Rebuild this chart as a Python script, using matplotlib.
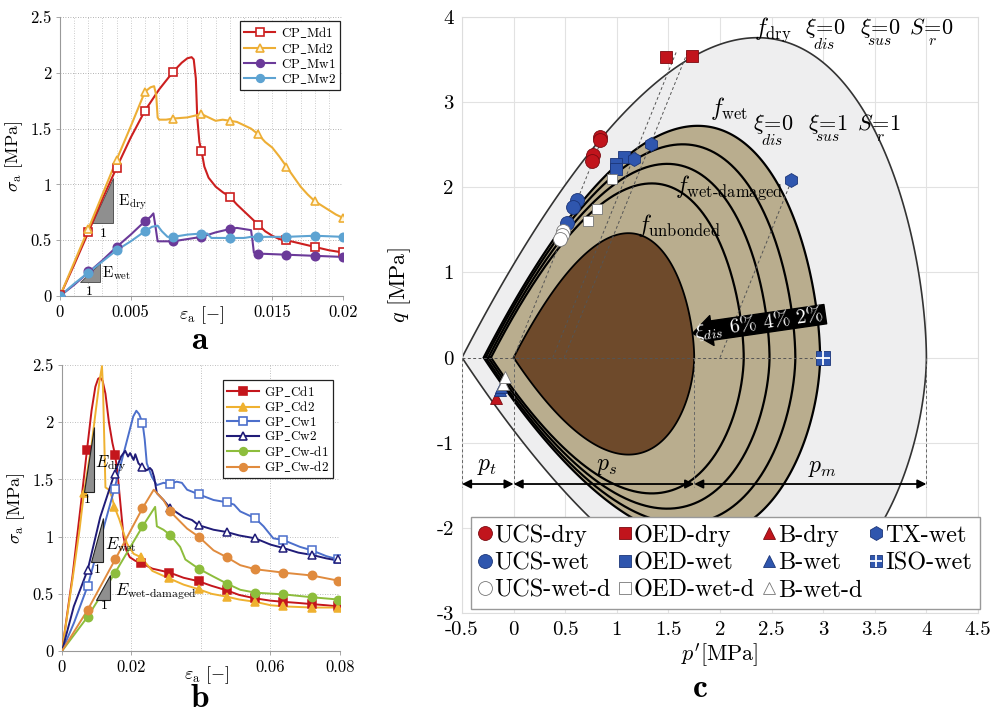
import numpy as np
import matplotlib
matplotlib.use('Agg')
import matplotlib.pyplot as plt
from matplotlib.patches import Polygon
from matplotlib.lines import Line2D

plt.rcParams.update({
    'font.family': 'serif',
    'font.serif': ['cmr10'],
    'mathtext.fontset': 'cm',
    'axes.unicode_minus': False,
    'axes.formatter.use_mathtext': True,
})

# ---------------- panel a data (strain in 1e-3) ----------------
md1_e = [0, 1, 2, 3, 4, 5, 6, 7, 8, 8.6, 9.0, 9.3, 9.45, 9.6, 9.7, 9.85, 10.0, 10.2, 10.5, 11.0,
         11.5, 12.0, 12.5, 13.0, 13.5, 14.0, 14.5, 15.0, 15.5, 16.0, 17.0, 18.0, 19.0, 20.0]
md1_s = [0, 0.28, 0.57, 0.87, 1.15, 1.42, 1.66, 1.85, 2.01, 2.09, 2.13, 2.14, 2.12, 1.95, 1.6, 1.38,
         1.30, 1.16, 1.06, 0.98, 0.93, 0.89, 0.82, 0.76, 0.70, 0.64, 0.58, 0.54, 0.51, 0.50, 0.47,
         0.44, 0.41, 0.39]
md1_me = [0, 2, 4, 6, 8, 10, 12, 14, 16, 18, 20]
md1_ms = [0.01, 0.57, 1.15, 1.66, 2.01, 1.30, 0.89, 0.64, 0.50, 0.44, 0.39]

md2_e = [0, 1, 2, 3, 4, 5, 6, 6.4, 6.65, 6.8, 6.9, 7.0, 7.5, 8.0, 9.0, 10.0, 10.5, 11.0, 11.5,
         12.0, 12.5, 13.0, 13.5, 14.0, 14.5, 15.0, 15.5, 16.0, 16.5, 17.0, 17.5, 18.0, 18.5,
         19.0, 19.5, 20.0]
md2_s = [0, 0.30, 0.60, 0.91, 1.22, 1.52, 1.83, 1.87, 1.88, 1.80, 1.60, 1.58, 1.58, 1.59, 1.60,
         1.63, 1.60, 1.57, 1.58, 1.57, 1.56, 1.53, 1.50, 1.45, 1.38, 1.33, 1.25, 1.16, 1.07, 0.98,
         0.91, 0.85, 0.81, 0.77, 0.73, 0.70]
md2_me = [0, 2, 4, 6, 8, 10, 12, 14, 16, 18, 20]
md2_ms = [0, 0.60, 1.22, 1.83, 1.59, 1.63, 1.57, 1.45, 1.16, 0.85, 0.70]

mw1_e = [0, 1, 2, 3, 4, 5, 6, 6.4, 6.6, 6.75, 6.9, 7.5, 8.0, 9.0, 10.0, 10.5, 11.0, 12.0, 12.5,
         13.0, 13.5, 13.6, 13.7, 14.0, 16.0, 18.0, 20.0]
mw1_s = [0, 0.10, 0.21, 0.32, 0.44, 0.55, 0.67, 0.71, 0.74, 0.62, 0.49, 0.49, 0.49, 0.51, 0.53,
         0.55, 0.57, 0.60, 0.61, 0.60, 0.59, 0.50, 0.39, 0.38, 0.37, 0.36, 0.35]
mw1_me = [0, 2, 4, 6, 8, 10, 12, 14, 16, 18, 20]
mw1_ms = [0, 0.22, 0.44, 0.67, 0.49, 0.53, 0.60, 0.38, 0.37, 0.36, 0.35]

mw2_e = [0, 1, 2, 3, 4, 5, 6, 6.5, 6.9, 7.2, 7.6, 8.0, 8.5, 9.0, 10.0, 10.4, 10.7, 11.0, 12.0,
         13.0, 13.5, 14.0, 16.0, 18.0, 20.0]
mw2_s = [0, 0.11, 0.21, 0.31, 0.41, 0.49, 0.58, 0.62, 0.63, 0.58, 0.53, 0.53, 0.54, 0.55, 0.56,
         0.56, 0.52, 0.52, 0.52, 0.52, 0.53, 0.53, 0.53, 0.54, 0.53]
mw2_me = [0, 2, 4, 6, 8, 10, 12, 14, 16, 18, 20]
mw2_ms = [0, 0.21, 0.41, 0.58, 0.53, 0.56, 0.52, 0.53, 0.53, 0.54, 0.53]

# ---------------- panel b data (strain in 1e-3) ----------------
b_mark_e = [7.4, 15.2, 23.0, 31.0, 39.3, 47.4, 55.6, 63.7, 71.9, 79.5]

cd1_e = [0, 3, 5.5, 7.2, 8.5, 9.6, 10.4, 11.0, 11.7, 12.5, 13.5, 14.5, 15.3, 16.0, 16.8, 17.7,
         18.5, 19.5, 21.0, 22.7, 26, 31, 35, 39.3, 43, 47.4, 51, 55.6, 60, 63.7, 68, 71.9, 76, 79.5]
cd1_s = [0, 0.65, 1.30, 1.76, 2.10, 2.31, 2.38, 2.39, 2.36, 2.25, 2.00, 1.82, 1.71, 1.55, 1.29,
         1.00, 0.88, 0.82, 0.79, 0.77, 0.72, 0.685, 0.64, 0.61, 0.57, 0.53, 0.49, 0.46, 0.44,
         0.43, 0.42, 0.41, 0.40, 0.39]
cd1_me = [7.2, 15.3, 22.7, 30.8, 39.3, 47.4, 55.6, 63.7, 71.9, 79.5]
cd1_ms = [1.76, 1.71, 0.77, 0.685, 0.61, 0.53, 0.46, 0.43, 0.41, 0.39]

cd2_e = [0, 3, 5, 6.3, 8.5, 9.8, 10.8, 11.5, 11.8, 12.2, 12.5, 13.5, 14.3, 15.1, 16.5, 18.7,
         20.6, 22.7, 26, 30.8, 35, 39.3, 43, 47.4, 51, 55.6, 60, 63.7, 71.9, 79.5]
cd2_s = [0, 0.62, 1.05, 1.38, 1.80, 2.12, 2.36, 2.49, 2.30, 1.80, 1.43, 1.41, 1.35, 1.26, 1.15,
         0.94, 0.85, 0.82, 0.70, 0.635, 0.58, 0.54, 0.50, 0.475, 0.45, 0.43, 0.40, 0.39, 0.38, 0.38]
cd2_me = [6.3, 15.1, 22.7, 30.8, 39.3, 47.4, 55.6, 63.7, 71.9, 79.5]
cd2_ms = [1.38, 1.26, 0.82, 0.635, 0.54, 0.475, 0.43, 0.39, 0.38, 0.38]

cw1_e = [0, 3.5, 7.4, 11, 15.1, 18.7, 20.5, 21.4, 22.2, 23.2, 23.8, 24.4, 25.9, 27.3, 29.2, 31.1,
         33, 34.5, 36, 39.3, 43.6, 47.4, 49.5, 51.3, 55.6, 58, 60.8, 63.7, 68.5, 71.9, 76, 79.5]
cw1_s = [0, 0.25, 0.57, 0.97, 1.42, 1.84, 2.05, 2.10, 2.07, 1.99, 1.85, 1.64, 1.52, 1.45, 1.47,
         1.46, 1.48, 1.47, 1.41, 1.37, 1.32, 1.30, 1.28, 1.22, 1.16, 1.09, 0.985, 0.97, 0.91,
         0.88, 0.83, 0.80]
cw1_ms = [0.57, 1.42, 1.99, 1.46, 1.37, 1.30, 1.16, 0.97, 0.88, 0.80]

cw2_e = [0, 3.4, 7.4, 11, 15.1, 17, 18.2, 19, 19.6, 20.6, 21.1, 22, 23, 24.4, 25.3, 25.9, 26.5,
         27.3, 29.2, 31.1, 35, 37.4, 39.3, 43.6, 47.4, 51, 55.6, 60, 63.7, 68, 71.9, 76, 79.5]
cw2_s = [0, 0.39, 0.71, 1.17, 1.55, 1.70, 1.75, 1.70, 1.73, 1.67, 1.72, 1.64, 1.61, 1.58, 1.60,
         1.58, 1.52, 1.38, 1.32, 1.25, 1.17, 1.145, 1.10, 1.06, 1.04, 1.01, 0.985, 0.93, 0.90,
         0.86, 0.84, 0.81, 0.79]
cw2_ms = [0.71, 1.55, 1.61, 1.25, 1.10, 1.04, 0.985, 0.90, 0.84, 0.80]

cwd1_e = [0, 7.4, 15.3, 23.2, 26.8, 27.3, 29.2, 31.3, 34, 35.5, 39.3, 43.6, 47.4, 51.3, 55.6,
          63.7, 71.9, 79.5]
cwd1_s = [0, 0.30, 0.685, 1.09, 1.26, 1.09, 1.06, 1.01, 0.91, 0.80, 0.72, 0.65, 0.59, 0.535,
          0.51, 0.495, 0.47, 0.45]
cwd1_ms = [0.30, 0.685, 1.09, 1.01, 0.72, 0.59, 0.51, 0.495, 0.47, 0.45]

cwd2_e = [0, 7.4, 15.3, 23.2, 26.4, 29.2, 31.1, 36, 39.3, 43.6, 47.4, 51.3, 55.6, 63.7, 71.9, 79.5]
cwd2_s = [0, 0.36, 0.80, 1.25, 1.41, 1.32, 1.22, 1.07, 1.00, 0.88, 0.82, 0.75, 0.715, 0.685,
          0.66, 0.615]
cwd2_ms = [0.36, 0.80, 1.25, 1.22, 1.00, 0.82, 0.715, 0.685, 0.66, 0.615]

# ---------------- panel c data ----------------
# yield surfaces: tensile apex p_t and right end p_c  [MPa]
surf_names = ['dry', 'wet', 'wet_2', 'wet_4', 'wet_6', 'unbonded']
surf_pt = [0.50, 0.29, 0.27, 0.245, 0.22, 0.0]
surf_pc = [4.00, 2.97, 2.73, 2.48, 2.23, 1.75]
M_slope = 2.34
shape_exp = 0.572
ext_ratio = 0.78

ucs_dry_p = [0.84, 0.84, 0.77, 0.76]
ucs_dry_q = [2.59, 2.55, 2.38, 2.31]
ucs_wet_p = [0.61, 0.58, 0.515]
ucs_wet_q = [1.85, 1.77, 1.585]
ucs_wetd_p = [0.48, 0.47, 0.45]
ucs_wetd_q = [1.49, 1.44, 1.39]
oed_dry_p = [1.48, 1.73]
oed_dry_q = [3.53, 3.54]
oed_wet_p = [1.07, 0.99, 0.99]
oed_wet_q = [2.36, 2.27, 2.21]
oed_wetd_p = [0.95, 0.805, 0.724]
oed_wetd_q = [2.10, 1.75, 1.60]
b_dry_p = [-0.175]
b_dry_q = [-0.47]
b_wet_p = [-0.13, -0.12]
b_wet_q = [-0.38, -0.35]
b_wetd_p = [-0.10, -0.085]
b_wetd_q = [-0.31, -0.23]
tx_wet_p = [1.33, 1.17, 2.69]
tx_wet_q = [2.51, 2.33, 2.09]
iso_wet_p = [3.0]
iso_wet_q = [0.0]

# stress paths (dashed)
path_p0 = [0.0, 0.38, 0.49, 2.0, -0.5]
path_q0 = [0.0, 0.0, 0.0, 0.0, 0.0]
path_p1 = [0.87, 1.58, 1.69, 2.70, 3.0]
path_q1 = [2.61, 3.60, 3.60, 2.10, 0.0]

RED = '#C1141C'
RED_E = '#7A0A10'
BLUE = '#2F56AE'
BLUE_E = '#1B3578'

fig = plt.figure(figsize=(9.95, 7.13), dpi=100)


def px_axes(left, top, right, bottom):
    return fig.add_axes([left / 995, 1 - bottom / 713, (right - left) / 995, (bottom - top) / 713])


def style_small(ax):
    for s in ['top', 'right']:
        ax.spines[s].set_visible(False)
    for s in ['left', 'bottom']:
        ax.spines[s].set_color('#999999')
        ax.spines[s].set_linewidth(0.8)
    ax.tick_params(length=3, width=0.6, color='#999999', labelsize=12, pad=3)


def add_legend_line(handles, labels, color, marker, mfc, label, ms=6):
    handles.append(Line2D([], [], color=color, lw=1.5, marker=marker, ms=ms, mfc=mfc, mec=color, mew=1.2))
    labels.append(label)


# ================= panel a =================
axa = px_axes(60, 17, 343, 296)
style_small(axa)
series_a = [
    (md1_e, md1_s, md1_me, md1_ms, '#CC1F1F', 's', 'white', r'$\mathrm{CP\_Md1}$'),
    (md2_e, md2_s, md2_me, md2_ms, '#EDAE35', '^', '#FFF6DD', r'$\mathrm{CP\_Md2}$'),
    (mw1_e, mw1_s, mw1_me, mw1_ms, '#6B3A99', 'o', '#6B3A99', r'$\mathrm{CP\_Mw1}$'),
    (mw2_e, mw2_s, mw2_me, mw2_ms, '#5DA3D2', 'o', '#5DA3D2', r'$\mathrm{CP\_Mw2}$'),
]
ha_, la_ = [], []
for e, s, me, ms, c, mk, mfc, lab in series_a:
    axa.plot(np.array(e) * 1e-3, s, color=c, lw=1.5, zorder=3)
    axa.plot(np.array(me) * 1e-3, ms, ls='none', marker=mk, ms=6, mfc=mfc, mec=c, mew=1.2, zorder=4)
    add_legend_line(ha_, la_, c, mk, mfc, lab, ms=5.5)

axa.add_patch(Polygon([(0.00224, 0.656), (0.00376, 0.656), (0.00376, 1.053)], closed=True,
                      fc='#8F8F8F', ec='#444444', lw=0.6, zorder=2))
axa.add_patch(Polygon([(0.00141, 0.128), (0.00282, 0.128), (0.00282, 0.292)], closed=True,
                      fc='#8F8F8F', ec='#444444', lw=0.6, zorder=2))
axa.text(0.0041, 0.84, r'$\mathrm{E}_{\mathrm{dry}}$', fontsize=11, va='center')
axa.text(0.00306, 0.56, '1', fontsize=10, ha='center', va='center')
axa.text(0.0030, 0.20, r'$\mathrm{E}_{\mathrm{wet}}$', fontsize=11, va='center')
axa.text(0.0021, 0.04, '1', fontsize=10, ha='center', va='center')

axa.set_xlim(0, 0.02)
axa.set_ylim(0, 2.5)
axa.set_xticks([0, 0.005, 0.015, 0.02], ['0', '0.005', '0.015', '0.02'])
axa.set_xticks(np.arange(0, 0.0201, 0.001), minor=True)
axa.tick_params(axis='x', which='minor', length=0)
axa.set_yticks([0, 0.5, 1, 1.5, 2, 2.5], ['0', '0.5', '1', '1.5', '2', '2.5'])
axa.grid(True, which='both', axis='x', ls=(0, (1, 2)), color='#BBBBBB', lw=0.6)
axa.grid(True, which='major', axis='y', ls=(0, (1, 2)), color='#999999', lw=0.6)
axa.text(0.5, -0.03, r'$\varepsilon_{\mathrm{a}}\ [-]$', transform=axa.transAxes, ha='center',
         va='top', fontsize=13)
axa.set_ylabel(r'$\sigma_{\mathrm{a}}$ [MPa]', fontsize=13, labelpad=4)
lga = axa.legend(ha_, la_, loc='upper right', bbox_to_anchor=(0.988, 0.985), fontsize=9.5,
                 frameon=True, fancybox=False, edgecolor='#222222', framealpha=1,
                 handlelength=2.4, borderpad=0.3, labelspacing=0.08, handletextpad=0.4,
                 borderaxespad=0)
lga.get_frame().set_linewidth(0.9)

# ================= panel b =================
axb = px_axes(62, 365, 340, 651)
style_small(axb)
series_b = [
    (cd1_e, cd1_s, cd1_me, cd1_ms, '#C4161C', 's', '#C4161C', r'$\mathrm{GP\_Cd1}$'),
    (cd2_e, cd2_s, cd2_me, cd2_ms, '#EFB130', '^', '#EFB130', r'$\mathrm{GP\_Cd2}$'),
    (cw1_e, cw1_s, b_mark_e, cw1_ms, '#4C6FCB', 's', 'white', r'$\mathrm{GP\_Cw1}$'),
    (cw2_e, cw2_s, b_mark_e, cw2_ms, '#201C78', '^', 'white', r'$\mathrm{GP\_Cw2}$'),
    (cwd1_e, cwd1_s, b_mark_e, cwd1_ms, '#8DBD3C', 'o', '#8DBD3C', r'$\mathrm{GP\_Cw}\text{-d1}$'),
    (cwd2_e, cwd2_s, b_mark_e, cwd2_ms, '#E08B3E', 'o', '#E08B3E', r'$\mathrm{GP\_Cw}\text{-d2}$'),
]
hb_, lb_ = [], []
for e, s, me, ms, c, mk, mfc, lab in series_b:
    axb.plot(np.array(e) * 1e-3, s, color=c, lw=1.4, zorder=3)
    axb.plot(np.array(me) * 1e-3, ms, ls='none', marker=mk, ms=6, mfc=mfc, mec=c, mew=1.1, zorder=4)
    add_legend_line(hb_, lb_, c, mk, mfc, lab, ms=5.5)

for tri in [[(0.0062, 1.39), (0.0091, 1.39), (0.0091, 1.96)],
            [(0.0083, 0.78), (0.0117, 0.78), (0.0117, 1.16)],
            [(0.0099, 0.45), (0.0137, 0.45), (0.0137, 0.66)]]:
    axb.add_patch(Polygon(tri, closed=True, fc='#8F8F8F', ec='#222222', lw=0.8, zorder=5))
axb.text(0.0094, 1.64, r'$E_{\mathrm{dry}}$', fontsize=12, va='center', zorder=6)
axb.text(0.0074, 1.32, '1', fontsize=10, ha='center', va='center', zorder=6)
axb.text(0.0123, 0.93, r'$E_{\mathrm{wet}}$', fontsize=12, va='center', zorder=6)
axb.text(0.0101, 0.71, '1', fontsize=10, ha='center', va='center', zorder=6)
axb.text(0.0152, 0.52, r'$E_{\text{wet-damaged}}$', fontsize=12, va='center', zorder=6)
axb.text(0.0122, 0.39, '1', fontsize=10, ha='center', va='center', zorder=6)

axb.set_xlim(0, 0.08)
axb.set_ylim(0, 2.5)
axb.set_xticks([0, 0.02, 0.06, 0.08], ['0', '0.02', '0.06', '0.08'])
axb.set_xticks([0.04], minor=True)
axb.tick_params(axis='x', which='minor', length=0)
axb.set_yticks([0, 0.5, 1, 1.5, 2, 2.5], ['0', '0.5', '1', '1.5', '2', '2.5'])
axb.grid(True, which='both', ls=(0, (1, 2)), color='#AAAAAA', lw=0.6)
axb.text(0.52, -0.045, r'$\varepsilon_{\mathrm{a}}\ [-]$', transform=axb.transAxes, ha='center',
         va='top', fontsize=13)
axb.set_ylabel(r'$\sigma_{\mathrm{a}}$ [MPa]', fontsize=13, labelpad=4)
lgb = axb.legend(hb_, lb_, loc='upper right', bbox_to_anchor=(0.975, 0.948), fontsize=9.5,
                 frameon=True, fancybox=False, edgecolor='#222222', framealpha=1,
                 handlelength=2.4, borderpad=0.3, labelspacing=0.05, handletextpad=0.4,
                 borderaxespad=0)
lgb.get_frame().set_linewidth(0.9)

fig.text(200 / 995, 1 - 340 / 713, r'$\mathbf{a}$', fontsize=24, ha='center', va='center')
fig.text(200 / 995, 1 - 698 / 713, r'$\mathbf{b}$', fontsize=24, ha='center', va='center')
fig.text(700 / 995, 1 - 688 / 713, r'$\mathbf{c}$', fontsize=24, ha='center', va='center')

# ================= panel c =================
axc = px_axes(462, 17, 978, 613)


def surface(pt, pc):
    t = np.linspace(1, 0, 700)
    x = 1 - t ** 2
    L = pc + pt
    p = -pt + L * x
    q = M_slope * L * x * (1 - x) ** shape_exp
    return np.concatenate([p, p[::-1]]), np.concatenate([q, -ext_ratio * q[::-1]])


fills = {'dry': '#EEEEEF', 'wet': '#B9AD8E', 'unbonded': '#6E4A2B'}
for name, pt, pc in zip(surf_names, surf_pt, surf_pc):
    p, q = surface(pt, pc)
    if name == 'dry':
        axc.fill(p, q, fc=fills['dry'], ec='#333333', lw=1.2, zorder=1)
    elif name == 'wet':
        axc.fill(p, q, fc=fills['wet'], ec='black', lw=1.6, zorder=2)
    elif name == 'unbonded':
        axc.fill(p, q, fc=fills['unbonded'], ec='black', lw=1.3, zorder=3)
    else:
        axc.plot(p, q, color='black', lw=1.6, zorder=3)

axc.grid(True, color='#E2E2E2', lw=0.8, zorder=0)
axc.set_axisbelow(True)

for p0, q0, p1, q1 in zip(path_p0, path_q0, path_p1, path_q1):
    axc.plot([p0, p1], [q0, q1], color='#555555', lw=0.7, ls=(0, (3, 2.5)), zorder=4)

for pv in [surf_pt[0] * -1, 0.0, surf_pc[5], surf_pc[0]]:
    axc.plot([pv, pv], [0, -1.52], color='#666666', lw=0.7, ls=(0, (3, 2.5)), zorder=4)

for a, b in [(-0.5, 0.0), (0.0, 1.75), (1.75, 4.0)]:
    axc.annotate('', xy=(b, -1.485), xytext=(a, -1.485),
                 arrowprops=dict(arrowstyle='<|-|>', color='black', lw=1.3, mutation_scale=13,
                                 shrinkA=0, shrinkB=0), zorder=6)
axc.text(-0.26, -1.27, r'$p_t$', fontsize=17, ha='center', va='center')
axc.text(0.90, -1.27, r'$p_s$', fontsize=17, ha='center', va='center')
axc.text(2.99, -1.30, r'$p_m$', fontsize=17, ha='center', va='center')

# damage arrow
axc.annotate('', xy=(1.735, 0.285), xytext=(3.02, 0.51),
             arrowprops=dict(arrowstyle='simple,head_width=1.55,head_length=1.0,tail_width=1.0',
                             fc='black', ec='black', mutation_scale=14, shrinkA=0, shrinkB=0),
             zorder=7)
axc.text(2.38, 0.405, r'$\xi_{dis}$ 6% 4% 2%', color='white', fontsize=14.5, rotation=8,
         ha='center', va='center', rotation_mode='anchor', zorder=8)

axc.text(2.33, 3.85, r'$f_{\mathrm{dry}}$', fontsize=17, va='center')
axc.text(1.90, 2.93, r'$f_{\mathrm{wet}}$', fontsize=17, va='center')
axc.text(1.56, 2.0, r'$f_{\text{wet-damaged}}$', fontsize=17, va='center')
axc.text(1.20, 1.55, r'$f_{\mathrm{unbonded}}$', fontsize=17, va='center')

xi_row1 = [(2.82, r'$\xi\!\underset{dis}{=}\!0$'), (3.36, r'$\xi\!\underset{sus}{=}\!0$'),
           (3.83, r'$S\!\underset{r}{=}\!0$')]
xi_row2 = [(2.32, r'$\xi\!\underset{dis}{=}\!0$'), (2.85, r'$\xi\!\underset{sus}{=}\!1$'),
           (3.33, r'$S\!\underset{r}{=}\!1$')]
for px, s in xi_row1:
    axc.text(px, 3.79, s, fontsize=16, va='baseline')
for px, s in xi_row2:
    axc.text(px, 2.66, s, fontsize=16, va='baseline')

pts = [
    (ucs_dry_p, ucs_dry_q, 'o', 10, RED, RED_E),
    (ucs_wet_p, ucs_wet_q, 'o', 10, BLUE, BLUE_E),
    (ucs_wetd_p, ucs_wetd_q, 'o', 10, 'white', '#777777'),
    (oed_dry_p, oed_dry_q, 's', 8, RED, RED_E),
    (oed_wet_p, oed_wet_q, 's', 8, BLUE, BLUE_E),
    (oed_wetd_p, oed_wetd_q, 's', 7.5, 'white', '#777777'),
    (b_dry_p, b_dry_q, '^', 8, RED, RED_E),
    (b_wet_p, b_wet_q, '^', 8, BLUE, BLUE_E),
    (b_wetd_p, b_wetd_q, '^', 8, 'white', '#777777'),
    (tx_wet_p, tx_wet_q, 'h', 10, BLUE, BLUE_E),
]
for p, q, mk, ms, fc, ec in pts:
    axc.plot(p, q, ls='none', marker=mk, ms=ms, mfc=fc, mec=ec, mew=0.6, zorder=9)
axc.plot(iso_wet_p, iso_wet_q, ls='none', marker='s', ms=10, mfc=BLUE, mec=BLUE_E, mew=0.6, zorder=9)
axc.plot(iso_wet_p, iso_wet_q, ls='none', marker='+', ms=10, mec='white', mew=1.3, zorder=10)

axc.set_xlim(-0.5, 4.5)
axc.set_ylim(-3, 4)
xt = np.arange(-0.5, 4.51, 0.5)
axc.set_xticks(xt, ['-0.5', '0', '0.5', '1', '1.5', '2', '2.5', '3', '3.5', '4', '4.5'])
axc.set_yticks(range(-3, 5), [str(v) for v in range(-3, 5)])
axc.tick_params(length=0, labelsize=15, pad=6)
for s in axc.spines.values():
    s.set_color('#DDDDDD')
    s.set_linewidth(0.8)
axc.set_xlabel(r"$p'$[MPa]", fontsize=16, labelpad=2)
axc.set_ylabel(r'$q$ [MPa]', fontsize=16, labelpad=6)
axc.yaxis.set_label_coords(-0.095, 0.55)


def lh(mk, ms, fc, ec):
    return Line2D([], [], ls='none', marker=mk, ms=ms, mfc=fc, mec=ec, mew=0.6)


iso_h = (lh('s', 9, BLUE, BLUE_E), Line2D([], [], ls='none', marker='+', ms=9, mec='white', mew=1.3))
hc = [lh('o', 10, RED, RED_E), lh('o', 10, BLUE, BLUE_E), lh('o', 10, 'white', '#777777'),
      lh('s', 8, RED, RED_E), lh('s', 8, BLUE, BLUE_E), lh('s', 8, 'white', '#777777'),
      lh('^', 8, RED, RED_E), lh('^', 8, BLUE, BLUE_E), lh('^', 8, 'white', '#777777'),
      lh('h', 10, BLUE, BLUE_E), iso_h]
lc_ = ['UCS-dry', 'UCS-wet', 'UCS-wet-d', 'OED-dry', 'OED-wet', 'OED-wet-d',
       'B-dry', 'B-wet', 'B-wet-d', 'TX-wet', 'ISO-wet']
lgc = axc.legend(hc, lc_, ncol=4, loc='lower left', bbox_to_anchor=(0.018, 0.007), fontsize=17.5,
                 frameon=True, fancybox=False, edgecolor='#999999', framealpha=1,
                 handlelength=0.55, handletextpad=0.1, columnspacing=0.3, labelspacing=0.22,
                 borderpad=0.3, borderaxespad=0)
lgc.set_zorder(20)

fig.savefig('out.png', dpi=100)
